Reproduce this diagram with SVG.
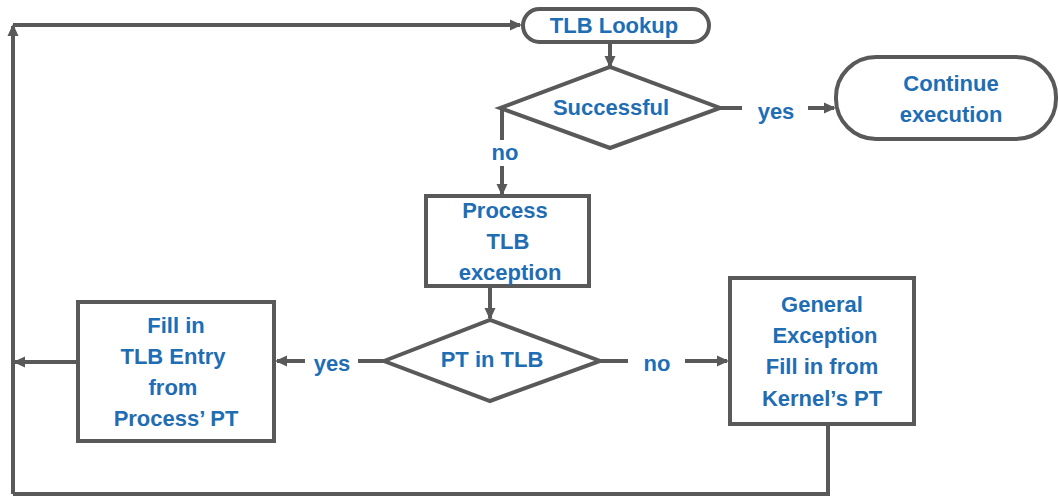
<svg xmlns="http://www.w3.org/2000/svg" width="1058" height="497" viewBox="0 0 1058 497">
<style>
.s{fill:#fff;stroke:#595959;stroke-width:4}
.c{fill:none;stroke:#595959;stroke-width:4}
text{font-family:"Liberation Sans",Arial,sans-serif;font-weight:bold;font-size:22px;fill:#1f6db3;text-anchor:middle}
</style>
<defs>
<marker id="a" markerWidth="12" markerHeight="12" refX="10" refY="6" orient="auto" markerUnits="userSpaceOnUse">
<path d="M0,0.5 L12,6 L0,11.5 z" fill="#595959"/>
</marker>
</defs>
<rect width="1058" height="497" fill="#fff"/>
<g id="connectors">
<path class="c" d="M13,494 V26" marker-end="url(#a)"/>
<path class="c" d="M13,25 H520" marker-end="url(#a)"/>
<path class="c" d="M610,42 V66" marker-end="url(#a)"/>
<path class="c" d="M720,108 H742"/>
<path class="c" d="M808,108 H834" marker-end="url(#a)"/>
<path class="c" d="M502,108 V140"/>
<path class="c" d="M502,166 V194" marker-end="url(#a)"/>
<path class="c" d="M490,286 V318" marker-end="url(#a)"/>
<path class="c" d="M384,361 H358"/>
<path class="c" d="M305,361 H277" marker-end="url(#a)"/>
<path class="c" d="M600,361 H628"/>
<path class="c" d="M685,361 H727" marker-end="url(#a)"/>
<path class="c" d="M78,362 H15" marker-end="url(#a)"/>
<path class="c" d="M828,424 V494 H13"/>
<text x="776" y="119">yes</text>
<text x="505" y="160">no</text>
<text x="332" y="371">yes</text>
<text x="657" y="371">no</text>
</g>
<g id="tlb-lookup">
<rect class="s" x="523" y="9" width="186" height="33" rx="16.5"/>
<text x="614" y="33">TLB Lookup</text>
</g>
<g id="successful">
<polygon class="s" points="500,108 610,67 720,108 610,148"/>
<text x="611" y="115">Successful</text>
</g>
<g id="continue">
<rect class="s" x="836" y="57" width="220" height="82" rx="40"/>
<text x="951" y="91">Continue</text>
<text x="951" y="122">execution</text>
</g>
<g id="process-tlb">
<rect class="s" x="426" y="196" width="163" height="90"/>
<text x="505" y="218">Process</text>
<text x="508" y="249">TLB</text>
<text x="510" y="280">exception</text>
</g>
<g id="pt-in-tlb">
<polygon class="s" points="384,361 490,320 600,361 490,401"/>
<text x="492" y="367">PT in TLB</text>
</g>
<g id="fill-tlb">
<rect class="s" x="78" y="302" width="196" height="139"/>
<text x="176" y="333">Fill in</text>
<text x="173" y="364">TLB Entry</text>
<text x="173" y="395">from</text>
<text x="176" y="426">Process’ PT</text>
</g>
<g id="general">
<rect class="s" x="730" y="278" width="184" height="146"/>
<text x="822" y="312">General</text>
<text x="825" y="343">Exception</text>
<text x="822" y="374">Fill in from</text>
<text x="822" y="406">Kernel’s PT</text>
</g>
</svg>
